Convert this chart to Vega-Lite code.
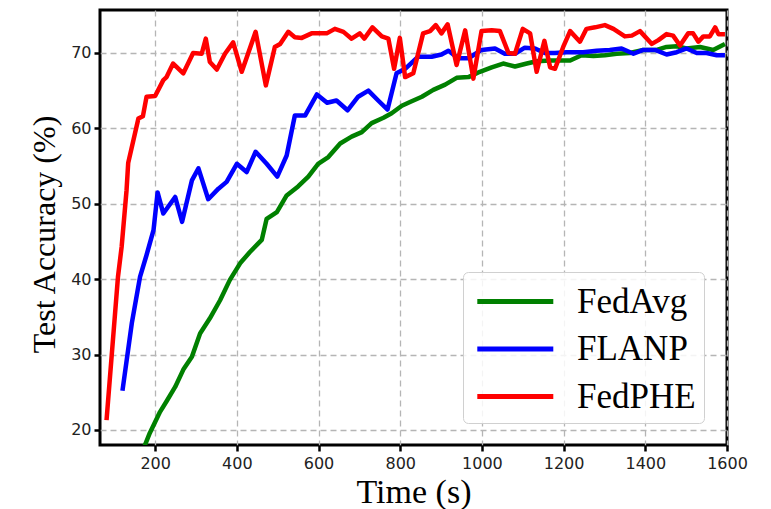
{
  "$schema": "https://vega.github.io/schema/vega-lite/v6.json",
  "width": 627,
  "height": 435,
  "autosize": "none",
  "padding": {"left": 100, "top": 10, "right": 44, "bottom": 64},
  "background": "white",
  "config": {
    "view": {"stroke": "black", "strokeWidth": 3},
    "axis": {
      "domain": false,
      "tickColor": "black",
      "tickWidth": 2.5,
      "tickSize": 6,
      "gridColor": "#b5b5b5",
      "gridDash": [6, 4],
      "gridWidth": 1.3,
      "labelFont": "DejaVu Sans",
      "labelFontSize": 16,
      "labelColor": "#222",
      "titleFont": "Liberation Serif",
      "titleFontWeight": "normal",
      "titleColor": "black"
    }
  },
  "data": {
    "values": [
      {"method": "FedAvg", "time": 170, "accuracy": 17.3},
      {"method": "FedAvg", "time": 187, "accuracy": 19.6},
      {"method": "FedAvg", "time": 212, "accuracy": 22.4},
      {"method": "FedAvg", "time": 228, "accuracy": 23.8},
      {"method": "FedAvg", "time": 249, "accuracy": 25.7},
      {"method": "FedAvg", "time": 269, "accuracy": 28.0},
      {"method": "FedAvg", "time": 290, "accuracy": 29.7},
      {"method": "FedAvg", "time": 310, "accuracy": 32.8},
      {"method": "FedAvg", "time": 334, "accuracy": 34.8},
      {"method": "FedAvg", "time": 359, "accuracy": 37.2},
      {"method": "FedAvg", "time": 383, "accuracy": 39.9},
      {"method": "FedAvg", "time": 408, "accuracy": 42.1},
      {"method": "FedAvg", "time": 432, "accuracy": 43.6},
      {"method": "FedAvg", "time": 461, "accuracy": 45.2},
      {"method": "FedAvg", "time": 473, "accuracy": 48.0},
      {"method": "FedAvg", "time": 498, "accuracy": 48.9},
      {"method": "FedAvg", "time": 522, "accuracy": 51.1},
      {"method": "FedAvg", "time": 550, "accuracy": 52.3},
      {"method": "FedAvg", "time": 575, "accuracy": 53.6},
      {"method": "FedAvg", "time": 599, "accuracy": 55.3},
      {"method": "FedAvg", "time": 624, "accuracy": 56.2},
      {"method": "FedAvg", "time": 653, "accuracy": 58.0},
      {"method": "FedAvg", "time": 681, "accuracy": 58.9},
      {"method": "FedAvg", "time": 706, "accuracy": 59.5},
      {"method": "FedAvg", "time": 730, "accuracy": 60.7},
      {"method": "FedAvg", "time": 759, "accuracy": 61.4},
      {"method": "FedAvg", "time": 779, "accuracy": 62.0},
      {"method": "FedAvg", "time": 804, "accuracy": 63.0},
      {"method": "FedAvg", "time": 824, "accuracy": 63.5},
      {"method": "FedAvg", "time": 853, "accuracy": 64.2},
      {"method": "FedAvg", "time": 881, "accuracy": 65.1},
      {"method": "FedAvg", "time": 910, "accuracy": 65.8},
      {"method": "FedAvg", "time": 938, "accuracy": 66.7},
      {"method": "FedAvg", "time": 967, "accuracy": 66.8},
      {"method": "FedAvg", "time": 995, "accuracy": 67.5},
      {"method": "FedAvg", "time": 1024, "accuracy": 68.1},
      {"method": "FedAvg", "time": 1052, "accuracy": 68.6},
      {"method": "FedAvg", "time": 1081, "accuracy": 68.2},
      {"method": "FedAvg", "time": 1110, "accuracy": 68.6},
      {"method": "FedAvg", "time": 1134, "accuracy": 68.9},
      {"method": "FedAvg", "time": 1167, "accuracy": 69.0},
      {"method": "FedAvg", "time": 1191, "accuracy": 69.0},
      {"method": "FedAvg", "time": 1216, "accuracy": 69.0},
      {"method": "FedAvg", "time": 1244, "accuracy": 69.7},
      {"method": "FedAvg", "time": 1273, "accuracy": 69.6},
      {"method": "FedAvg", "time": 1301, "accuracy": 69.7},
      {"method": "FedAvg", "time": 1330, "accuracy": 69.9},
      {"method": "FedAvg", "time": 1362, "accuracy": 70.0},
      {"method": "FedAvg", "time": 1395, "accuracy": 70.4},
      {"method": "FedAvg", "time": 1428, "accuracy": 70.4},
      {"method": "FedAvg", "time": 1452, "accuracy": 70.8},
      {"method": "FedAvg", "time": 1477, "accuracy": 70.9},
      {"method": "FedAvg", "time": 1501, "accuracy": 70.6},
      {"method": "FedAvg", "time": 1534, "accuracy": 70.8},
      {"method": "FedAvg", "time": 1566, "accuracy": 70.4},
      {"method": "FedAvg", "time": 1595, "accuracy": 71.2},

      {"method": "FLANP", "time": 120, "accuracy": 25.2},
      {"method": "FLANP", "time": 143, "accuracy": 34.2},
      {"method": "FLANP", "time": 163, "accuracy": 40.3},
      {"method": "FLANP", "time": 179, "accuracy": 43.2},
      {"method": "FLANP", "time": 196, "accuracy": 46.5},
      {"method": "FLANP", "time": 206, "accuracy": 51.5},
      {"method": "FLANP", "time": 220, "accuracy": 48.7},
      {"method": "FLANP", "time": 249, "accuracy": 50.9},
      {"method": "FLANP", "time": 266, "accuracy": 47.6},
      {"method": "FLANP", "time": 290, "accuracy": 53.1},
      {"method": "FLANP", "time": 306, "accuracy": 54.7},
      {"method": "FLANP", "time": 330, "accuracy": 50.6},
      {"method": "FLANP", "time": 355, "accuracy": 52.0},
      {"method": "FLANP", "time": 375, "accuracy": 52.9},
      {"method": "FLANP", "time": 400, "accuracy": 55.3},
      {"method": "FLANP", "time": 424, "accuracy": 54.2},
      {"method": "FLANP", "time": 446, "accuracy": 56.9},
      {"method": "FLANP", "time": 473, "accuracy": 55.3},
      {"method": "FLANP", "time": 499, "accuracy": 53.6},
      {"method": "FLANP", "time": 522, "accuracy": 56.4},
      {"method": "FLANP", "time": 542, "accuracy": 61.7},
      {"method": "FLANP", "time": 567, "accuracy": 61.7},
      {"method": "FLANP", "time": 596, "accuracy": 64.5},
      {"method": "FLANP", "time": 621, "accuracy": 63.4},
      {"method": "FLANP", "time": 644, "accuracy": 63.7},
      {"method": "FLANP", "time": 671, "accuracy": 62.4},
      {"method": "FLANP", "time": 697, "accuracy": 64.2},
      {"method": "FLANP", "time": 722, "accuracy": 65.0},
      {"method": "FLANP", "time": 746, "accuracy": 63.7},
      {"method": "FLANP", "time": 769, "accuracy": 62.5},
      {"method": "FLANP", "time": 791, "accuracy": 67.3},
      {"method": "FLANP", "time": 812, "accuracy": 67.9},
      {"method": "FLANP", "time": 844, "accuracy": 69.5},
      {"method": "FLANP", "time": 877, "accuracy": 69.5},
      {"method": "FLANP", "time": 901, "accuracy": 69.8},
      {"method": "FLANP", "time": 918, "accuracy": 70.3},
      {"method": "FLANP", "time": 942, "accuracy": 69.3},
      {"method": "FLANP", "time": 967, "accuracy": 69.3},
      {"method": "FLANP", "time": 999, "accuracy": 70.4},
      {"method": "FLANP", "time": 1032, "accuracy": 70.6},
      {"method": "FLANP", "time": 1056, "accuracy": 69.9},
      {"method": "FLANP", "time": 1081, "accuracy": 69.9},
      {"method": "FLANP", "time": 1105, "accuracy": 70.7},
      {"method": "FLANP", "time": 1130, "accuracy": 70.6},
      {"method": "FLANP", "time": 1154, "accuracy": 70.0},
      {"method": "FLANP", "time": 1179, "accuracy": 70.0},
      {"method": "FLANP", "time": 1207, "accuracy": 70.1},
      {"method": "FLANP", "time": 1248, "accuracy": 70.1},
      {"method": "FLANP", "time": 1281, "accuracy": 70.3},
      {"method": "FLANP", "time": 1313, "accuracy": 70.4},
      {"method": "FLANP", "time": 1342, "accuracy": 70.6},
      {"method": "FLANP", "time": 1371, "accuracy": 69.9},
      {"method": "FLANP", "time": 1395, "accuracy": 70.4},
      {"method": "FLANP", "time": 1424, "accuracy": 70.4},
      {"method": "FLANP", "time": 1452, "accuracy": 69.8},
      {"method": "FLANP", "time": 1477, "accuracy": 70.1},
      {"method": "FLANP", "time": 1501, "accuracy": 70.6},
      {"method": "FLANP", "time": 1526, "accuracy": 70.0},
      {"method": "FLANP", "time": 1550, "accuracy": 70.0},
      {"method": "FLANP", "time": 1575, "accuracy": 69.7},
      {"method": "FLANP", "time": 1595, "accuracy": 69.7},

      {"method": "FedPHE", "time": 81, "accuracy": 21.3},
      {"method": "FedPHE", "time": 109, "accuracy": 40.3},
      {"method": "FedPHE", "time": 118, "accuracy": 44.3},
      {"method": "FedPHE", "time": 130, "accuracy": 51.8},
      {"method": "FedPHE", "time": 134, "accuracy": 55.4},
      {"method": "FedPHE", "time": 159, "accuracy": 61.3},
      {"method": "FedPHE", "time": 170, "accuracy": 61.6},
      {"method": "FedPHE", "time": 179, "accuracy": 64.2},
      {"method": "FedPHE", "time": 200, "accuracy": 64.3},
      {"method": "FedPHE", "time": 220, "accuracy": 66.4},
      {"method": "FedPHE", "time": 228, "accuracy": 66.8},
      {"method": "FedPHE", "time": 244, "accuracy": 68.6},
      {"method": "FedPHE", "time": 269, "accuracy": 67.3},
      {"method": "FedPHE", "time": 293, "accuracy": 70.0},
      {"method": "FedPHE", "time": 314, "accuracy": 69.9},
      {"method": "FedPHE", "time": 324, "accuracy": 71.9},
      {"method": "FedPHE", "time": 334, "accuracy": 68.8},
      {"method": "FedPHE", "time": 351, "accuracy": 67.8},
      {"method": "FedPHE", "time": 371, "accuracy": 69.9},
      {"method": "FedPHE", "time": 391, "accuracy": 71.4},
      {"method": "FedPHE", "time": 412, "accuracy": 67.5},
      {"method": "FedPHE", "time": 446, "accuracy": 72.8},
      {"method": "FedPHE", "time": 471, "accuracy": 65.7},
      {"method": "FedPHE", "time": 493, "accuracy": 70.8},
      {"method": "FedPHE", "time": 506, "accuracy": 71.2},
      {"method": "FedPHE", "time": 526, "accuracy": 72.8},
      {"method": "FedPHE", "time": 542, "accuracy": 72.1},
      {"method": "FedPHE", "time": 559, "accuracy": 72.0},
      {"method": "FedPHE", "time": 583, "accuracy": 72.6},
      {"method": "FedPHE", "time": 620, "accuracy": 72.6},
      {"method": "FedPHE", "time": 640, "accuracy": 73.2},
      {"method": "FedPHE", "time": 661, "accuracy": 72.8},
      {"method": "FedPHE", "time": 681, "accuracy": 71.9},
      {"method": "FedPHE", "time": 701, "accuracy": 72.6},
      {"method": "FedPHE", "time": 712, "accuracy": 71.9},
      {"method": "FedPHE", "time": 732, "accuracy": 73.4},
      {"method": "FedPHE", "time": 755, "accuracy": 72.2},
      {"method": "FedPHE", "time": 771, "accuracy": 71.9},
      {"method": "FedPHE", "time": 785, "accuracy": 67.9},
      {"method": "FedPHE", "time": 799, "accuracy": 72.0},
      {"method": "FedPHE", "time": 812, "accuracy": 66.8},
      {"method": "FedPHE", "time": 832, "accuracy": 67.3},
      {"method": "FedPHE", "time": 856, "accuracy": 72.6},
      {"method": "FedPHE", "time": 873, "accuracy": 72.9},
      {"method": "FedPHE", "time": 887, "accuracy": 73.7},
      {"method": "FedPHE", "time": 901, "accuracy": 72.6},
      {"method": "FedPHE", "time": 916, "accuracy": 73.8},
      {"method": "FedPHE", "time": 938, "accuracy": 68.4},
      {"method": "FedPHE", "time": 959, "accuracy": 73.0},
      {"method": "FedPHE", "time": 979, "accuracy": 66.6},
      {"method": "FedPHE", "time": 999, "accuracy": 72.9},
      {"method": "FedPHE", "time": 1024, "accuracy": 73.0},
      {"method": "FedPHE", "time": 1044, "accuracy": 72.9},
      {"method": "FedPHE", "time": 1065, "accuracy": 70.0},
      {"method": "FedPHE", "time": 1081, "accuracy": 69.9},
      {"method": "FedPHE", "time": 1100, "accuracy": 73.2},
      {"method": "FedPHE", "time": 1118, "accuracy": 72.6},
      {"method": "FedPHE", "time": 1134, "accuracy": 67.5},
      {"method": "FedPHE", "time": 1153, "accuracy": 71.6},
      {"method": "FedPHE", "time": 1167, "accuracy": 68.1},
      {"method": "FedPHE", "time": 1179, "accuracy": 67.9},
      {"method": "FedPHE", "time": 1199, "accuracy": 70.8},
      {"method": "FedPHE", "time": 1216, "accuracy": 72.9},
      {"method": "FedPHE", "time": 1240, "accuracy": 71.5},
      {"method": "FedPHE", "time": 1256, "accuracy": 73.2},
      {"method": "FedPHE", "time": 1277, "accuracy": 73.4},
      {"method": "FedPHE", "time": 1301, "accuracy": 73.7},
      {"method": "FedPHE", "time": 1322, "accuracy": 73.2},
      {"method": "FedPHE", "time": 1350, "accuracy": 72.2},
      {"method": "FedPHE", "time": 1367, "accuracy": 72.3},
      {"method": "FedPHE", "time": 1387, "accuracy": 72.9},
      {"method": "FedPHE", "time": 1416, "accuracy": 71.2},
      {"method": "FedPHE", "time": 1432, "accuracy": 71.7},
      {"method": "FedPHE", "time": 1452, "accuracy": 72.5},
      {"method": "FedPHE", "time": 1468, "accuracy": 72.3},
      {"method": "FedPHE", "time": 1485, "accuracy": 71.0},
      {"method": "FedPHE", "time": 1505, "accuracy": 72.6},
      {"method": "FedPHE", "time": 1517, "accuracy": 72.6},
      {"method": "FedPHE", "time": 1530, "accuracy": 71.5},
      {"method": "FedPHE", "time": 1542, "accuracy": 72.2},
      {"method": "FedPHE", "time": 1558, "accuracy": 72.2},
      {"method": "FedPHE", "time": 1571, "accuracy": 73.4},
      {"method": "FedPHE", "time": 1579, "accuracy": 72.5},
      {"method": "FedPHE", "time": 1595, "accuracy": 72.5}
    ]
  },
  "mark": {"type": "line", "strokeWidth": 4.5, "clip": true, "strokeJoin": "round"},
  "encoding": {
    "x": {
      "field": "time",
      "type": "quantitative",
      "scale": {"domain": [65, 1600], "nice": false, "zero": false},
      "axis": {
        "values": [200, 400, 600, 800, 1000, 1200, 1400, 1600],
        "format": "d",
        "title": "Time (s)",
        "titleFontSize": 34,
        "titlePadding": 4,
        "labelPadding": 4,
        "labelFlush": false
      }
    },
    "y": {
      "field": "accuracy",
      "type": "quantitative",
      "scale": {"domain": [18, 75.7], "nice": false, "zero": false},
      "axis": {
        "values": [20, 30, 40, 50, 60, 70],
        "title": "Test Accuracy (%)",
        "titleFontSize": 32,
        "titlePadding": 9,
        "titleY": 224,
        "labelPadding": 3
      }
    },
    "color": {
      "field": "method",
      "type": "nominal",
      "scale": {"domain": ["FedAvg", "FLANP", "FedPHE"], "range": ["#008000", "#0000ff", "#ff0000"]},
      "legend": {
        "title": null,
        "orient": "none",
        "legendX": 363,
        "legendY": 262,
        "symbolType": "M-0.8,0H3.2",
        "symbolSize": 1444,
        "symbolStrokeWidth": 5,
        "labelFont": "Liberation Serif",
        "labelFontSize": 35,
        "labelColor": "black",
        "labelOffset": 63,
        "rowPadding": 7.5,
        "padding": 8,
        "strokeColor": "#d0d0d0",
        "fillColor": "rgba(255,255,255,0.85)",
        "cornerRadius": 5
      }
    }
  }
}
